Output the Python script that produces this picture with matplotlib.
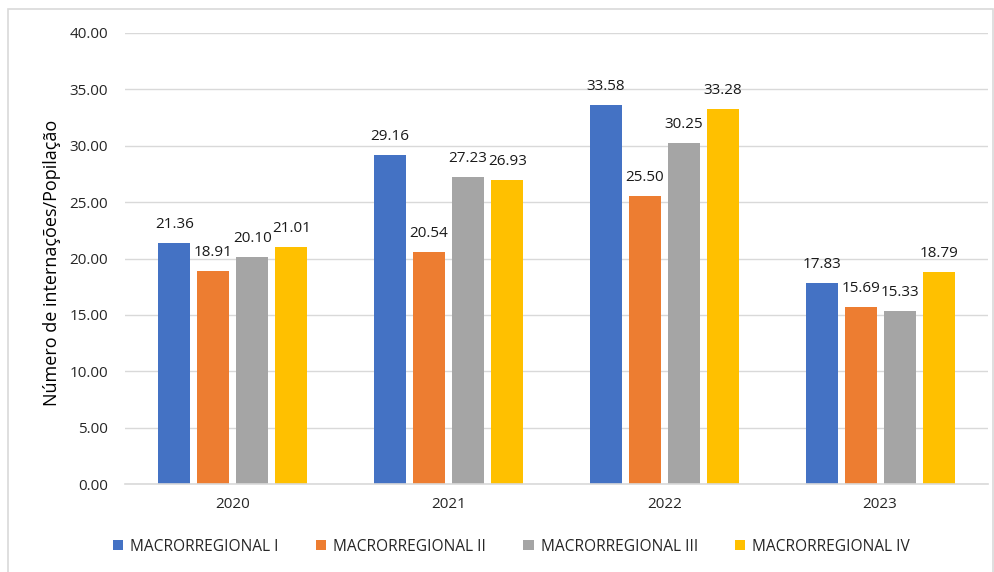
import matplotlib.pyplot as plt
import numpy as np
from matplotlib.patches import Rectangle

plt.rcParams['font.family'] = ['Open Sans', 'DejaVu Sans']

years = ['2020', '2021', '2022', '2023']
series_names = ['MACRORREGIONAL I', 'MACRORREGIONAL II', 'MACRORREGIONAL III', 'MACRORREGIONAL IV']
macro_1 = [21.36, 29.16, 33.58, 17.83]
macro_2 = [18.91, 20.54, 25.50, 15.69]
macro_3 = [20.10, 27.23, 30.25, 15.33]
macro_4 = [21.01, 26.93, 33.28, 18.79]
colors = ['#4472C4', '#ED7D31', '#A5A5A5', '#FFC000']

fig = plt.figure(figsize=(9.95, 5.72), dpi=100)
# outer chart frame
fig.patches.append(Rectangle((8 / 995, -0.01), 985 / 995, 1 - 9 / 572 + 0.01,
                             transform=fig.transFigure, fill=False,
                             edgecolor='#D9D9D9', linewidth=1.2))

ax = fig.add_axes([125 / 995, 1 - 484 / 572, 863 / 995, (484 - 33) / 572])

x = np.arange(len(years))
width = 0.148
pitch = 0.181
all_series = [macro_1, macro_2, macro_3, macro_4]
for i, vals in enumerate(all_series):
    pos = x + (i - 1.5) * pitch
    bars = ax.bar(pos, vals, width, color=colors[i], label=series_names[i], zorder=2)
    for b, v in zip(bars, vals):
        ax.annotate(f'{v:.2f}', (b.get_x() + b.get_width() / 2, v),
                    xytext=(0, 8), textcoords='offset points',
                    ha='center', va='bottom', fontsize=11, color='#1a1a1a')

ax.set_xlim(-0.5, 3.5)
ax.set_ylim(0, 40)
ax.set_yticks(np.arange(0, 41, 5))
ax.set_yticklabels([f'{v:.2f}' for v in np.arange(0, 41, 5)])
ax.set_xticks(x)
ax.set_xticklabels(years)
ax.tick_params(axis='both', length=0, labelsize=11, colors='#262626')
ax.tick_params(axis='y', pad=12)
ax.tick_params(axis='x', pad=9)
ax.grid(axis='y', color='#D9D9D9', linewidth=1, zorder=0)
for s in ['top', 'right', 'left']:
    ax.spines[s].set_visible(False)
ax.spines['bottom'].set_color('#D9D9D9')
ax.spines['bottom'].set_linewidth(1.2)
ax.set_ylabel('Número de internações/Popilação', fontsize=13, color='black')
ax.yaxis.set_label_coords(-0.074, 0.49)

ax.legend(loc='upper center', bbox_to_anchor=(0.448, -0.09), ncol=4, frameon=False,
          fontsize=11.2, handlelength=0.65, handleheight=0.65, handletextpad=0.45,
          columnspacing=2.4, labelcolor='#262626')

fig.savefig('out.png', dpi=100)
